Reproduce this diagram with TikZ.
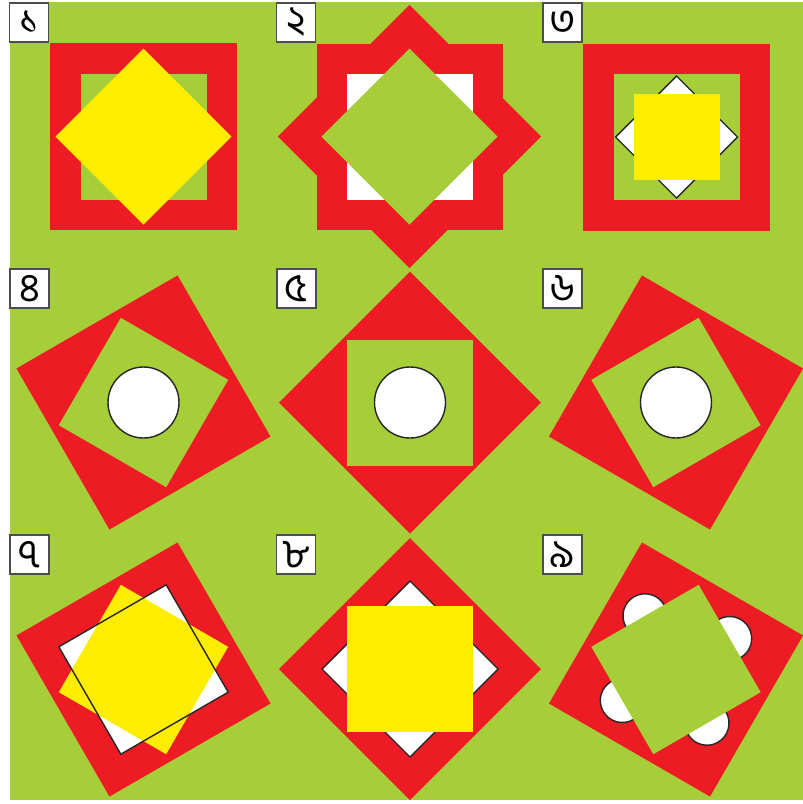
\documentclass[tikz,border=0pt]{standalone}
\usepackage{fontspec}
\newfontfamily\bn[Script=Bengali]{Hind Siliguri}
\definecolor{bg}{RGB}{166,206,57}
\definecolor{rd}{RGB}{237,28,36}
\definecolor{yl}{RGB}{255,237,0}
\definecolor{bx}{RGB}{77,77,77}
\begin{document}
\begin{tikzpicture}[x=1pt,y=-1pt,
 lab/.style={draw=bx, fill=white, line width=1.4pt, minimum width=39pt, minimum height=39pt, inner sep=0pt},
 dig/.style={inner sep=0pt, font=\bn\fontsize{40}{40}\selectfont},
 outl/.style={draw=black!85, line width=1.4pt}]
\useasboundingbox (0,0) rectangle (803,804);
\fill[white] (0,0) rectangle (803,804);
\fill[bg] (10,2) rectangle (803,800);
% panel 1
\begin{scope}[shift={(143.5,136.5)}]
\fill[rd] (-93.5,-93.5) rectangle (93.5,93.5);
\fill[bg] (-63,-63) rectangle (63,63);
\fill[yl] (0,-88) -- (88,0) -- (0,88) -- (-88,0) -- cycle;
\end{scope}
% panel 2
\begin{scope}[shift={(409.5,136.5)}]
\fill[rd] (-93,-93) rectangle (93,93);
\fill[rd,rotate=45] (-93,-93) rectangle (93,93);
\fill[white] (-63,-63) rectangle (63,63);
\fill[bg] (0,-88) -- (88,0) -- (0,88) -- (-88,0) -- cycle;
\end{scope}
% panel 3
\begin{scope}[shift={(676.5,137)}]
\fill[rd] (-93.5,-93.5) rectangle (93.5,93.5);
\fill[bg] (-63,-63) rectangle (63,63);
\filldraw[fill=white,outl] (0,-61) -- (61,0) -- (0,61) -- (-61,0) -- cycle;
\fill[yl] (-43,-43) rectangle (43,43);
\end{scope}
% panel 4
\begin{scope}[shift={(143.5,402.5)}]
\fill[rd,rotate=30] (-93,-93) rectangle (93,93);
\fill[bg,rotate=-30] (-62,-62) rectangle (62,62);
\filldraw[fill=white,outl] (0,0) circle (35.5);
\end{scope}
% panel 5
\begin{scope}[shift={(410,402.5)}]
\fill[rd] (0,-131) -- (131,0) -- (0,131) -- (-131,0) -- cycle;
\fill[bg] (-63,-63) rectangle (63,63);
\filldraw[fill=white,outl] (0,0) circle (35.5);
\end{scope}
% panel 6
\begin{scope}[shift={(676,402.5)}]
\fill[rd,rotate=-30] (-93,-93) rectangle (93,93);
\fill[bg,rotate=30] (-62,-62) rectangle (62,62);
\filldraw[fill=white,outl] (0,0) circle (35.5);
\end{scope}
% panel 7
\begin{scope}[shift={(143.5,669.5)}]
\fill[rd,rotate=30] (-93,-93) rectangle (93,93);
\fill[white,rotate=30] (-62,-62) rectangle (62,62);
\fill[yl,rotate=-30] (-62,-62) rectangle (62,62);
\draw[outl,rotate=30] (-62,-62) rectangle (62,62);
\end{scope}
% panel 8
\begin{scope}[shift={(410,669)}]
\fill[rd] (0,-131) -- (131,0) -- (0,131) -- (-131,0) -- cycle;
\filldraw[fill=white,outl] (0,-88) -- (88,0) -- (0,88) -- (-88,0) -- cycle;
\fill[yl] (-63,-63) rectangle (63,63);
\end{scope}
% panel 9
\begin{scope}[shift={(676,669.5)}]
\fill[rd,rotate=-30] (-93,-93) rectangle (93,93);
\begin{scope}[rotate=30]
\filldraw[fill=white,outl] (62,0) circle (22);
\filldraw[fill=white,outl] (-62,0) circle (22);
\filldraw[fill=white,outl] (0,62) circle (22);
\filldraw[fill=white,outl] (0,-62) circle (22);
\fill[bg] (-62,-62) rectangle (62,62);
\end{scope}
\end{scope}
% labels
\node[lab] (l1) at (29.2,22.5) {};
\node[lab] (l2) at (296,22.5) {};
\node[lab] (l3) at (562.3,22.5) {};
\node[lab] (l4) at (29.5,288.5) {};
\node[lab] (l5) at (296.5,288.5) {};
\node[lab] (l6) at (562.3,288.5) {};
\node[lab] (l7) at (29.5,554.5) {};
\node[lab] (l8) at (296,554.5) {};
\node[lab] (l9) at (562.3,554.5) {};
\node[dig] (d1) at (l1) {১};
\node[dig] (d2) at (l2) {২};
\node[dig] (d3) at (l3) {৩};
\node[dig] (d4) at (l4) {৪};
\node[dig] (d5) at (l5) {৫};
\node[dig] (d6) at (l6) {৬};
\node[dig] (d7) at (l7) {৭};
\node[dig] (d8) at (l8) {৮};
\node[dig] (d9) at (l9) {৯};
\end{tikzpicture}
\end{document}
